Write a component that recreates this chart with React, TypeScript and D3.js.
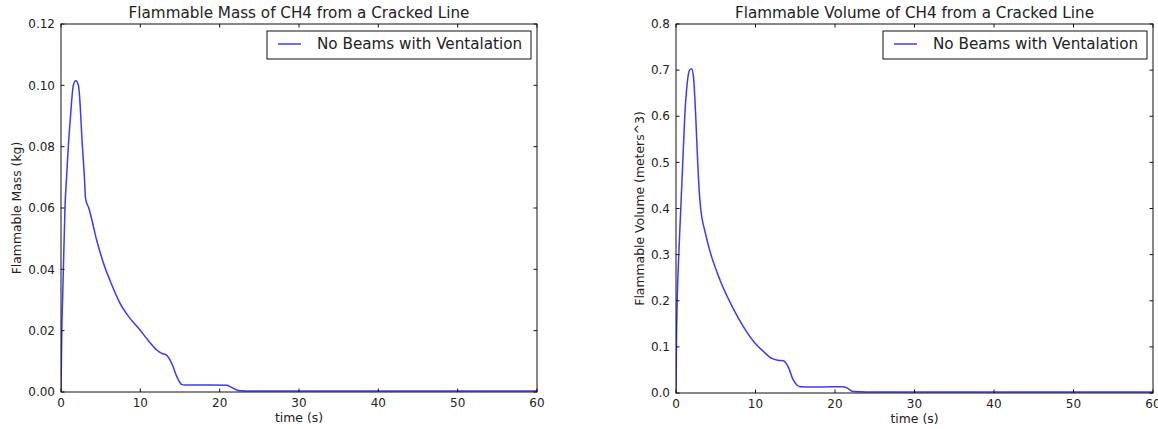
import React from "react";
import * as d3 from "d3";

// ---- Data ----
const massTime = [0, 0.05, 0.1, 0.2, 0.3, 0.5, 0.7, 0.92, 1.2, 1.55, 1.85, 2.2, 2.7, 2.95, 3.1, 3.5, 4.5, 5.55, 6.2, 7.44, 8.7, 9.96, 11, 12.07, 12.7, 13.3, 13.96, 14.6, 15.2, 15.6, 17, 19, 20.9, 21.5, 22.4, 24, 30, 40, 50, 60];
const massValue = [0, 0.01, 0.02, 0.03, 0.04, 0.06, 0.07, 0.08, 0.09, 0.1, 0.1015, 0.1, 0.08, 0.07, 0.063, 0.06, 0.0495, 0.0405, 0.0362, 0.0289, 0.024, 0.0202, 0.0168, 0.0137, 0.0126, 0.012, 0.0093, 0.005, 0.0025, 0.0023, 0.0023, 0.0023, 0.0022, 0.0015, 0.0005, 0.0003, 0.0003, 0.0003, 0.0003, 0.0003];

const volTime = [0, 0.05, 0.15, 0.35, 0.6, 0.85, 1.1, 1.4, 1.7, 1.97, 2.2, 2.48, 2.73, 2.95, 3.1, 3.65, 4.4, 5.53, 7.2, 8.47, 10.15, 11, 12.04, 12.8, 13.5, 14.1, 14.7, 15.2, 15.6, 18, 21.0, 21.6, 22.3, 24, 30, 40, 50, 60];
const volValue = [0, 0.1, 0.2, 0.3, 0.4, 0.5, 0.6, 0.67, 0.7, 0.703, 0.685, 0.6, 0.5, 0.43, 0.4, 0.35, 0.3, 0.245, 0.183, 0.144, 0.104, 0.09, 0.075, 0.071, 0.07, 0.057, 0.03, 0.0173, 0.0137, 0.013, 0.0137, 0.01, 0.003, 0.002, 0.002, 0.002, 0.002, 0.002];

const xTicks = [0, 10, 20, 30, 40, 50, 60];
const massTicks = [0, 0.02, 0.04, 0.06, 0.08, 0.1, 0.12];
const volTicks = [0, 0.1, 0.2, 0.3, 0.4, 0.5, 0.6, 0.7, 0.8];

const legendLabel = "No Beams with Ventalation";

const FONT = "'DejaVu Sans', sans-serif";
const LINE_COLOR = "#3a3aff";
const TEXT_COLOR = "#222";

type PanelProps = {
  left: number;
  right: number;
  top: number;
  bottom: number;
  time: number[];
  values: number[];
  yMax: number;
  yTicks: number[];
  yFormat: string;
  title: string;
  yLabel: string;
  yLabelX: number;
  id: string;
};

function Panel(p: PanelProps) {
  const x = d3.scaleLinear().domain([0, 60]).range([p.left, p.right]);
  const y = d3.scaleLinear().domain([0, p.yMax]).range([p.bottom, p.top]);
  const data = p.time.map((t, i) => [t, p.values[i]] as [number, number]);
  const line = d3
    .line<[number, number]>()
    .x((d) => x(d[0]))
    .y((d) => y(d[1]))
    .curve(d3.curveMonotoneX);
  const fmt = d3.format(p.yFormat);
  const tl = 3.5;
  const cx = (p.left + p.right) / 2;
  const legW = 264;
  const legX = p.right - 6 - legW;
  const legY = p.top + 7;
  return (
    <g>
      <defs>
        <clipPath id={p.id}>
          <rect x={p.left} y={p.top} width={p.right - p.left} height={p.bottom - p.top} />
        </clipPath>
      </defs>
      <path d={line(data) || ""} fill="none" stroke={LINE_COLOR} strokeWidth={1.5} clipPath={`url(#${p.id})`} />
      <rect x={p.left} y={p.top} width={p.right - p.left} height={p.bottom - p.top} fill="none" stroke="#111" strokeWidth={1} />
      {xTicks.map((t) => (
        <g key={"x" + t}>
          <line x1={x(t)} x2={x(t)} y1={p.bottom} y2={p.bottom - tl} stroke="#111" />
          <line x1={x(t)} x2={x(t)} y1={p.top} y2={p.top + tl} stroke="#111" />
          <text x={x(t)} y={p.bottom + 15} textAnchor="middle" fontSize={12} fill={TEXT_COLOR} fontFamily={FONT}>
            {t}
          </text>
        </g>
      ))}
      {p.yTicks.map((v) => (
        <g key={"y" + v}>
          <line x1={p.left} x2={p.left + tl} y1={y(v)} y2={y(v)} stroke="#111" />
          <line x1={p.right} x2={p.right - tl} y1={y(v)} y2={y(v)} stroke="#111" />
          <text x={p.left - 6} y={y(v)} dy="0.35em" textAnchor="end" fontSize={12} fill={TEXT_COLOR} fontFamily={FONT}>
            {fmt(v)}
          </text>
        </g>
      ))}
      <text x={cx} y={18} textAnchor="middle" fontSize={15.2} fill={TEXT_COLOR} fontFamily={FONT}>
        {p.title}
      </text>
      <text x={cx} y={p.bottom + 30} textAnchor="middle" fontSize={12.4} fill={TEXT_COLOR} fontFamily={FONT}>
        time (s)
      </text>
      <text
        transform={`translate(${p.yLabelX},${(p.top + p.bottom) / 2}) rotate(-90)`}
        textAnchor="middle"
        fontSize={12.4}
        fill={TEXT_COLOR}
        fontFamily={FONT}
      >
        {p.yLabel}
      </text>
      <g>
        <rect x={legX} y={legY} width={legW} height={28} fill="#fff" stroke="#111" strokeWidth={1} />
        <line x1={legX + 11} x2={legX + 34} y1={legY + 13} y2={legY + 13} stroke={LINE_COLOR} strokeWidth={1.5} />
        <text x={legX + 50} y={legY + 13} dy="0.35em" fontSize={15.2} fill={TEXT_COLOR} fontFamily={FONT}>
          {legendLabel}
        </text>
      </g>
    </g>
  );
}

export default function App() {
  return (
    <svg
      width={1158}
      height={429}
      style={{ position: "absolute", left: 0, top: 0, background: "#fff" }}
    >
      <rect x={0} y={0} width={1158} height={429} fill="#fff" />
      <Panel
        id="clipA"
        left={61}
        right={537}
        top={24}
        bottom={392}
        time={massTime}
        values={massValue}
        yMax={0.12}
        yTicks={massTicks}
        yFormat=".2f"
        title="Flammable Mass of CH4 from a Cracked Line"
        yLabel="Flammable Mass (kg)"
        yLabelX={20.5}
      />
      <Panel
        id="clipB"
        left={676}
        right={1153}
        top={24}
        bottom={393}
        time={volTime}
        values={volValue}
        yMax={0.8}
        yTicks={volTicks}
        yFormat=".1f"
        title="Flammable Volume of CH4 from a Cracked Line"
        yLabel="Flammable Volume (meters^3)"
        yLabelX={644}
      />
    </svg>
  );
}
